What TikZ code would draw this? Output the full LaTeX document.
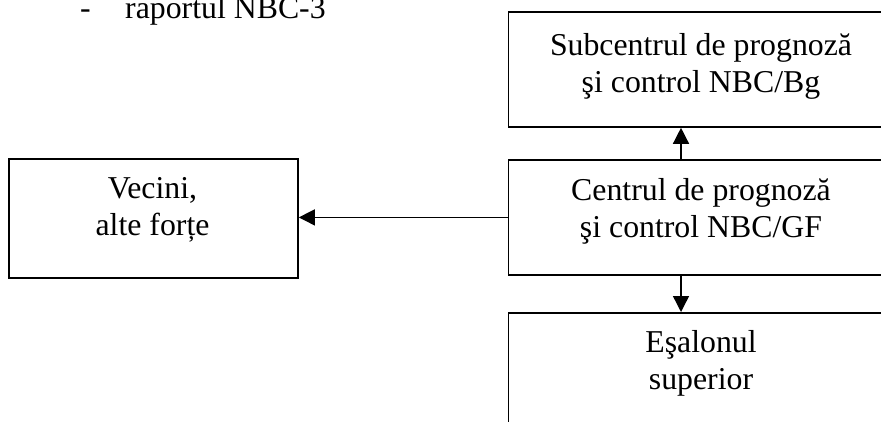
\documentclass[tikz,border=0pt]{standalone}
\usepackage{fontspec}
\setmainfont{Liberation Serif}
\usetikzlibrary{arrows.meta}
\begin{document}
\begin{tikzpicture}[x=1pt,y=-1pt,
  box/.style={draw=black, line width=1.8pt, rectangle, inner sep=0pt, anchor=north west},
  lbl/.style={inner sep=0pt, anchor=base, font=\fontsize{31.8}{36.6}\selectfont},
  link/.style={line width=1.4pt, -{Triangle[length=16pt,width=16pt]}}]
  \useasboundingbox (0,0) rectangle (881,421);
  \clip (0,0) rectangle (881,421);

  % list item above the chart
  \node[lbl, anchor=base west] (dash) at (80,18) {-};
  \node[lbl, anchor=base west] (rap) at (125,18) {raportul NBC-3};

  % boxes
  \node[box, minimum width=386pt, minimum height=115pt] (sub) at (507.5,11) {};
  \node[box, minimum width=386pt, minimum height=115pt] (cen) at (507.5,159) {};
  \node[box, minimum width=386pt, minimum height=150pt] (sup) at (507.5,312) {};
  \node[box, minimum width=289pt, minimum height=119pt] (nbr) at (8,158) {};

  % box texts
  \node[lbl] (sub1) at (701,55) {Subcentrul de prognoză};
  \node[lbl] (sub2) at (701,92) {şi control NBC/Bg};
  \node[lbl] (cen1) at (701,200) {Centrul de prognoză};
  \node[lbl] (cen2) at (701,237) {şi control NBC/GF};
  \node[lbl] (sup1) at (701,352) {Eşalonul};
  \node[lbl] (sup2) at (701,389) {superior};
  \node[lbl] (nbr1) at (152.5,198) {Vecini,};
  \node[lbl] (nbr2) at (152.5,235) {alte forțe};

  % connectors
  \coordinate (ax) at (681,0);
  \draw[link] (cen.north -| ax) -- (sub.south -| ax);
  \draw[link] (cen.south -| ax) -- (sup.north -| ax);
  \draw[link] (cen.west) -- (cen.west -| nbr.east);
\end{tikzpicture}
\end{document}
